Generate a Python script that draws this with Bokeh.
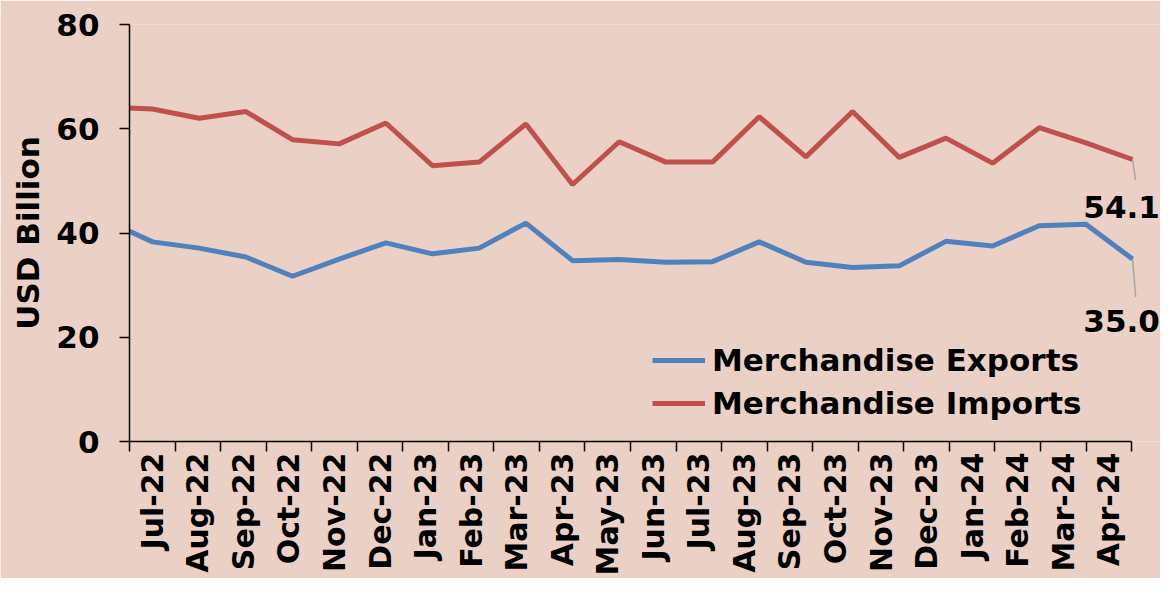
import math
from bokeh.plotting import figure
from bokeh.models import Range1d, LinearAxis, FixedTicker, Legend, LegendItem
from bokeh.core.properties import value
from bokeh.embed import file_html
from bokeh.resources import INLINE

# ---- data ----
months = ["Jul-22", "Aug-22", "Sep-22", "Oct-22", "Nov-22", "Dec-22", "Jan-23", "Feb-23",
          "Mar-23", "Apr-23", "May-23", "Jun-23", "Jul-23", "Aug-23", "Sep-23", "Oct-23",
          "Nov-23", "Dec-23", "Jan-24", "Feb-24", "Mar-24", "Apr-24"]
# series start one month earlier (Jun-22); that segment is cut by the y axis
exports = [42.4, 38.3, 37.1, 35.4, 31.7, 35.0, 38.1, 36.0, 37.1, 41.9, 34.7, 34.9, 34.4,
           34.5, 38.3, 34.4, 33.4, 33.7, 38.4, 37.5, 41.4, 41.7, 35.0]
imports = [64.2, 63.8, 62.0, 63.3, 57.9, 57.1, 61.1, 52.9, 53.6, 60.9, 49.3, 57.5, 53.6,
           53.6, 62.3, 54.6, 63.3, 54.5, 58.2, 53.4, 60.2, 57.3, 54.1]
yticks = [0, 20, 40, 60, 80]

idx = list(range(-1, len(months)))

BG = "#EBD0C5"
BLUE = "#4F81BD"
RED = "#C0504D"
FONT = "DejaVu Sans"

p = figure(width=1160, height=578, output_backend="svg", toolbar_location=None,
           x_axis_type=None, x_range=Range1d(-0.493, 21.598), y_range=Range1d(0, 80),
           min_border_left=129, min_border_right=0, min_border_top=24, min_border_bottom=0)
p.background_fill_color = BG
p.border_fill_color = BG
p.outline_line_color = None
p.grid.visible = False

# category axis (ticks between months)
p.extra_x_ranges = {"m": Range1d(-0.5, 22.135)}
xa = LinearAxis(x_range_name="m", bounds=(-0.5, len(months) - 0.5))
xa.ticker = FixedTicker(ticks=list(range(len(months))),
                        minor_ticks=[i - 0.5 for i in range(len(months) + 1)])
xa.major_label_overrides = {i: m for i, m in enumerate(months)}
xa.major_label_orientation = math.pi / 2
xa.major_tick_line_color = None
xa.major_tick_out = 10
xa.major_tick_in = 0
xa.minor_tick_out = 10
xa.minor_tick_in = 0
xa.minor_tick_line_color = "black"
xa.minor_tick_line_width = 1.5
xa.axis_line_color = "black"
xa.axis_line_width = 1.5
xa.major_label_standoff = 1
xa.major_label_text_font = FONT
xa.major_label_text_font_style = "bold"
xa.major_label_text_font_size = "30px"
xa.major_label_text_color = "black"
p.add_layout(xa, "below")

ya = p.yaxis[0]
ya.ticker = FixedTicker(ticks=yticks, minor_ticks=[])
ya.major_tick_out = 10
ya.major_tick_in = 0
ya.major_tick_line_width = 1.5
ya.major_tick_line_color = "black"
ya.axis_line_color = "black"
ya.axis_line_width = 1.5
ya.major_label_standoff = 20
ya.major_label_text_font = FONT
ya.major_label_text_font_style = "bold"
ya.major_label_text_font_size = "31px"
ya.major_label_text_color = "black"
ya.axis_label = "USD Billion"
ya.axis_label_text_font = FONT
ya.axis_label_text_font_style = "bold"
ya.axis_label_text_font_size = "31px"
ya.axis_label_text_color = "black"
ya.axis_label_standoff = 7

r_exp = p.line(idx, exports, line_color=BLUE, line_width=5)
r_imp = p.line(idx, imports, line_color=RED, line_width=5)

# end-point data labels with leader lines
last = len(months) - 1
p.ray(x=[last], y=[imports[-1]], length=21, length_units="screen", angle=-1.43,
      line_color="#A6A6A6", line_width=1.5)
p.ray(x=[last], y=[exports[-1]], length=38, length_units="screen", angle=-1.49,
      line_color="#A6A6A6", line_width=1.5)
p.text(x=[last, last], y=[imports[-1], exports[-1]],
       text=[f"{imports[-1]:.1f}", f"{exports[-1]:.1f}"],
       x_offset=[-11, -11], y_offset=[47, 62],
       text_align="center", text_baseline="middle",
       text_font=value(FONT), text_font_style="bold", text_font_size="31px",
       text_color="black")

legend = Legend(items=[LegendItem(label="Merchandise Exports", renderers=[r_exp]),
                       LegendItem(label="Merchandise Imports", renderers=[r_imp])],
                location=(523, 20), orientation="vertical")
legend.background_fill_alpha = 0
legend.border_line_color = None
legend.padding = 0
legend.margin = 0
legend.spacing = 7
legend.glyph_width = 53
legend.label_standoff = 7
legend.label_text_font = FONT
legend.label_text_font_style = "bold"
legend.label_text_font_size = "31px"
legend.label_text_color = "black"
p.add_layout(legend, "center")

open("out.html", "w").write(file_html(p, INLINE))
